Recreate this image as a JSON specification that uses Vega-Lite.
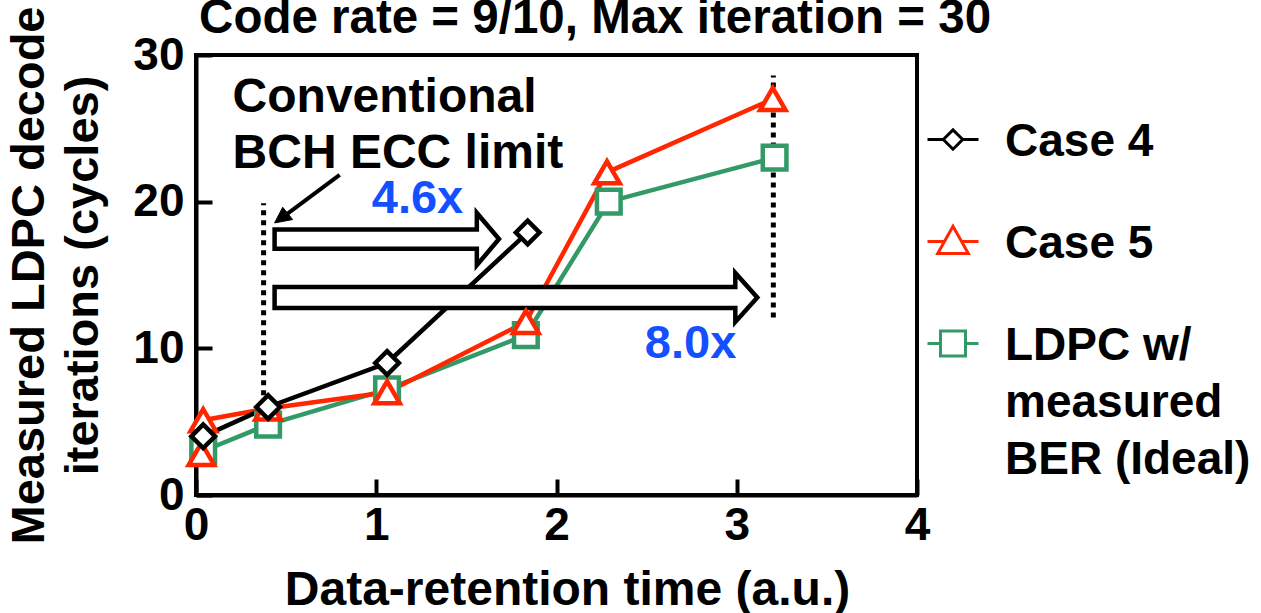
{
  "$schema": "https://vega.github.io/schema/vega-lite/v6.json",
  "autosize": {"type": "none"},
  "padding": {"left": 196, "top": 55, "right": 344, "bottom": 118},
  "width": 721,
  "height": 440,
  "background": "white",
  "config": {
    "font": "Liberation Sans",
    "view": {"stroke": "black", "strokeWidth": 4},
    "style": {"guide-label": {"lineHeight": 57}},
    "axis": {"domainColor": "black", "domainWidth": 4, "tickColor": "black", "tickWidth": 4, "tickSize": -16, "grid": false, "labelFont": "Liberation Sans", "labelFontSize": 46, "labelFontWeight": "bold", "labelColor": "black", "labelFlush": false, "labelOverlap": false, "titleFont": "Liberation Sans", "titleFontSize": 47, "titleFontWeight": "bold", "titleColor": "black"},
    "axisX": {"labelPadding": 24, "titleFontSize": 48, "titleX": 371, "titleY": 109, "titleAlign": "center", "titleBaseline": "alphabetic"},
    "axisY": {"labelPadding": 28, "titlePadding": 25, "titleLineHeight": 54}
  },
  "datasets": {
    "series": [
      {"series": "LDPC w/ measured BER (Ideal)", "i": 1, "x": 0.04, "y": 3.0},
      {"series": "LDPC w/ measured BER (Ideal)", "i": 2, "x": 0.40, "y": 4.8},
      {"series": "LDPC w/ measured BER (Ideal)", "i": 3, "x": 1.06, "y": 7.2},
      {"series": "LDPC w/ measured BER (Ideal)", "i": 4, "x": 1.83, "y": 10.9},
      {"series": "LDPC w/ measured BER (Ideal)", "i": 5, "x": 2.29, "y": 20.0},
      {"series": "LDPC w/ measured BER (Ideal)", "i": 6, "x": 3.21, "y": 23.0},
      {"series": "Case 5", "i": 1, "x": 0.03, "y": 2.8},
      {"series": "Case 5", "i": 2, "x": 0.04, "y": 5.1},
      {"series": "Case 5", "i": 3, "x": 0.40, "y": 5.9},
      {"series": "Case 5", "i": 4, "x": 1.06, "y": 7.0},
      {"series": "Case 5", "i": 5, "x": 1.83, "y": 11.8},
      {"series": "Case 5", "i": 6, "x": 2.28, "y": 22.0},
      {"series": "Case 5", "i": 7, "x": 3.20, "y": 27.0},
      {"series": "Case 4", "i": 1, "x": 0.04, "y": 4.0},
      {"series": "Case 4", "i": 2, "x": 0.40, "y": 6.0},
      {"series": "Case 4", "i": 3, "x": 1.06, "y": 9.0},
      {"series": "Case 4", "i": 4, "x": 1.84, "y": 17.9}
    ],
    "limits": [
      {"x": 0.375, "y": 6.8, "y2": 19.9},
      {"x": 3.203, "y": 12.1, "y2": 28.6}
    ],
    "blocks": [
      {"id": "a1", "k": 1, "x": 0.436, "y": 18.11},
      {"id": "a1", "k": 2, "x": 1.558, "y": 18.11},
      {"id": "a1", "k": 3, "x": 1.558, "y": 19.23},
      {"id": "a1", "k": 4, "x": 1.681, "y": 17.45},
      {"id": "a1", "k": 5, "x": 1.558, "y": 15.67},
      {"id": "a1", "k": 6, "x": 1.558, "y": 16.79},
      {"id": "a1", "k": 7, "x": 0.436, "y": 16.79},
      {"id": "a2", "k": 1, "x": 0.436, "y": 14.19},
      {"id": "a2", "k": 2, "x": 2.992, "y": 14.19},
      {"id": "a2", "k": 3, "x": 2.992, "y": 15.14},
      {"id": "a2", "k": 4, "x": 3.114, "y": 13.47},
      {"id": "a2", "k": 5, "x": 2.992, "y": 11.80},
      {"id": "a2", "k": 6, "x": 2.992, "y": 12.75},
      {"id": "a2", "k": 7, "x": 0.436, "y": 12.75}
    ],
    "pointerShaft": [
      {"k": 1, "x": 0.797, "y": 21.82},
      {"k": 2, "x": 0.508, "y": 19.19}
    ],
    "pointerHead": [
      {"k": 1, "x": 0.436, "y": 18.55},
      {"k": 2, "x": 0.536, "y": 18.78},
      {"k": 3, "x": 0.481, "y": 19.62}
    ],
    "notes": [
      {"kind": "title", "text": "Code rate = 9/10, Max iteration = 30", "x": 2.214, "y": 31.5},
      {"kind": "note", "text": "Conventional", "x": 0.203, "y": 26.11},
      {"kind": "note", "text": "BCH ECC limit", "x": 0.203, "y": 22.30},
      {"kind": "factor", "text": "4.6x", "x": 0.975, "y": 19.23},
      {"kind": "factor", "text": "8.0x", "x": 2.49, "y": 9.34}
    ]
  },
  "encoding": {
    "x": {"field": "x", "type": "quantitative", "scale": {"domain": [0, 4], "nice": false, "zero": false}, "axis": {"title": "Data-retention time (a.u.)", "values": [0, 1, 2, 3, 4], "format": "d"}},
    "y": {"field": "y", "type": "quantitative", "scale": {"domain": [0, 30], "nice": false}, "axis": {"title": ["Measured LDPC decode", "iterations (cycles)"], "values": [0, 10, 20, 30], "format": "d"}}
  },
  "layer": [
    {
      "data": {"name": "series"},
      "transform": [{"filter": "false"}],
      "mark": {"type": "point", "filled": false, "fill": "white", "strokeWidth": 3, "opacity": 1},
      "encoding": {
        "color": {
          "field": "series", "type": "nominal",
          "scale": {"domain": ["Case 4", "Case 5", "LDPC w/ measured BER (Ideal)"], "range": ["black", "#FF2600", "#339966"]},
          "legend": {
            "title": null, "orient": "none", "legendX": 730, "legendY": 38, "padding": 0,
            "symbolSize": 2601, "symbolStrokeWidth": 3, "symbolFillColor": "white", "labelOffset": 25, "rowPadding": 30,
            "labelFont": "Liberation Sans", "labelFontSize": 46, "labelFontWeight": "bold", "labelColor": "black", "labelLimit": 400,
            "labelBaseline": "top",
            "labelExpr": "datum.label == 'LDPC w/ measured BER (Ideal)' ? ['LDPC w/', 'measured', 'BER (Ideal)'] : datum.label"
          }
        },
        "shape": {
          "field": "series", "type": "nominal",
          "scale": {"domain": ["Case 4", "Case 5", "LDPC w/ measured BER (Ideal)"], "range": [
            "M-1,0.765L-0.38,0.765M0.38,0.765L1,0.765M-0.38,0.765L0,0.385L0.38,0.765L0,1.145Z",
            "M-1,0.765L-0.33,0.765M0.33,0.765L1,0.765M0,0.165L-0.6,1.235L0.6,1.235Z",
            "M-1,0.765L-0.49,0.765M0.49,0.765L1,0.765M-0.49,0.275L0.49,0.275L0.49,1.255L-0.49,1.255Z"
          ]},
          "legend": {
            "title": null, "orient": "none", "legendX": 730, "legendY": 38, "padding": 0,
            "symbolSize": 2601, "symbolStrokeWidth": 3, "symbolFillColor": "white", "labelOffset": 25, "rowPadding": 30,
            "labelFont": "Liberation Sans", "labelFontSize": 46, "labelFontWeight": "bold", "labelColor": "black", "labelLimit": 400,
            "labelBaseline": "top",
            "labelExpr": "datum.label == 'LDPC w/ measured BER (Ideal)' ? ['LDPC w/', 'measured', 'BER (Ideal)'] : datum.label"
          }
        }
      }
    },
    {
      "data": {"name": "limits"},
      "mark": {"type": "rule", "color": "black", "strokeWidth": 5, "strokeDash": [5, 5]},
      "encoding": {"y2": {"field": "y2"}}
    },
    {
      "data": {"name": "series"},
      "mark": {"type": "line", "strokeWidth": 4.5},
      "encoding": {
        "order": {"field": "i", "type": "quantitative"},
        "color": {"field": "series", "type": "nominal", "scale": {"domain": ["Case 4", "Case 5", "LDPC w/ measured BER (Ideal)"], "range": ["black", "#FF2600", "#339966"]}}
      }
    },
    {
      "data": {"name": "blocks"},
      "mark": {"type": "line", "interpolate": "linear-closed", "stroke": "black", "fill": "white", "strokeWidth": 4.5, "strokeJoin": "miter"},
      "encoding": {
        "detail": {"field": "id", "type": "nominal"},
        "order": {"field": "k", "type": "quantitative"}
      }
    },
    {
      "data": {"name": "pointerShaft"},
      "mark": {"type": "line", "stroke": "black", "strokeWidth": 4},
      "encoding": {"order": {"field": "k", "type": "quantitative"}}
    },
    {
      "data": {"name": "pointerHead"},
      "mark": {"type": "line", "interpolate": "linear-closed", "stroke": "black", "fill": "black", "strokeWidth": 1},
      "encoding": {"order": {"field": "k", "type": "quantitative"}}
    },
    {
      "data": {"name": "series"},
      "transform": [{"filter": "datum.series == 'LDPC w/ measured BER (Ideal)'"}],
      "mark": {"type": "point", "shape": "square", "filled": false, "fill": "white", "stroke": "#339966", "strokeWidth": 4.5, "size": 560, "opacity": 1}
    },
    {
      "data": {"name": "series"},
      "transform": [{"filter": "datum.series == 'Case 5'"}],
      "mark": {"type": "point", "shape": "triangle-up", "filled": false, "fill": "white", "stroke": "#FF2600", "strokeWidth": 4.5, "size": 650, "opacity": 1}
    },
    {
      "data": {"name": "series"},
      "transform": [{"filter": "datum.series == 'Case 4'"}],
      "mark": {"type": "point", "shape": "diamond", "filled": false, "fill": "white", "stroke": "black", "strokeWidth": 4.5, "size": 560, "opacity": 1}
    },
    {
      "data": {"name": "notes"},
      "transform": [{"filter": "datum.kind == 'title'"}],
      "mark": {"type": "text", "align": "center", "baseline": "alphabetic", "fontSize": 47.5, "fontWeight": "bold", "color": "black"},
      "encoding": {"text": {"field": "text", "type": "nominal"}}
    },
    {
      "data": {"name": "notes"},
      "transform": [{"filter": "datum.kind == 'note'"}],
      "mark": {"type": "text", "align": "left", "baseline": "alphabetic", "fontSize": 48, "fontWeight": "bold", "color": "black"},
      "encoding": {"text": {"field": "text", "type": "nominal"}}
    },
    {
      "data": {"name": "notes"},
      "transform": [{"filter": "datum.kind == 'factor'"}],
      "mark": {"type": "text", "align": "left", "baseline": "alphabetic", "fontSize": 47, "fontWeight": "bold", "color": "#1450FF"},
      "encoding": {"text": {"field": "text", "type": "nominal"}}
    }
  ]
}
